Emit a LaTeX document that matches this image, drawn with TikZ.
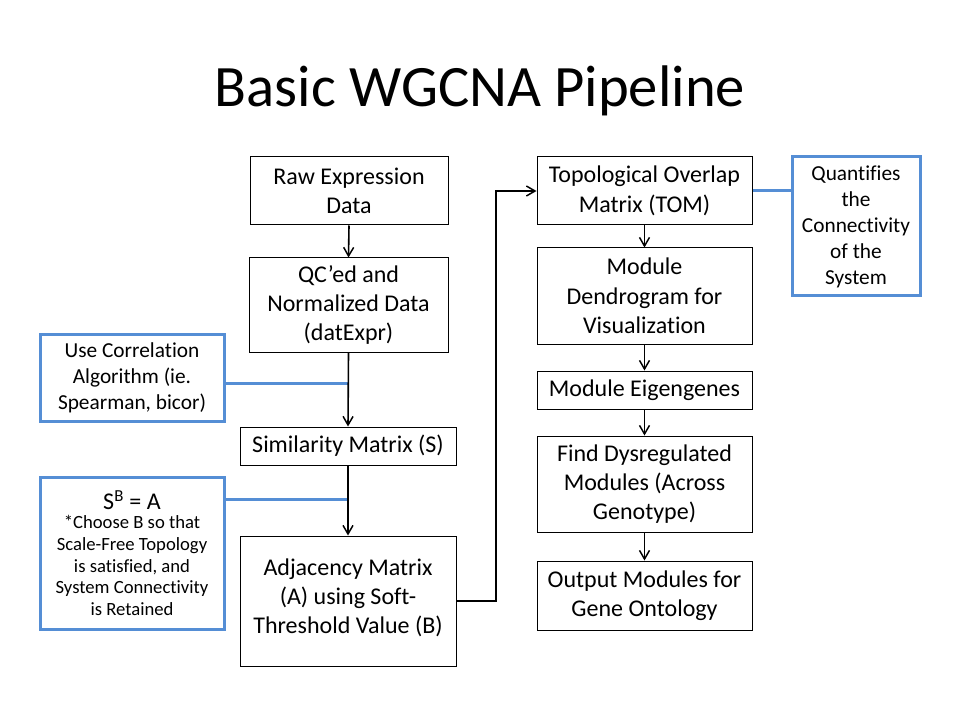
\documentclass[tikz,border=0pt]{standalone}
\usepackage{fontspec}
\setmainfont{Carlito}[Ligatures=NoCommon]
\usetikzlibrary{arrows.meta}
\definecolor{bluebox}{RGB}{85,142,213}
\begin{document}
\begin{tikzpicture}[x=0.75pt,y=-0.75pt,
  box/.style={draw=black,line width=0.75pt,align=center,inner sep=0pt,font=\fontsize{18}{22}\selectfont},
  note/.style={draw=bluebox,line width=2.25pt,align=center,inner sep=0pt},
  arr/.style={line width=1.2pt,-{Straight Barb[length=6.5pt,width=7.5pt,line width=1.1pt]}},
  bline/.style={draw=bluebox,line width=2.25pt}]
\useasboundingbox (0,0) rectangle (960,720);
\fill[white] (0,0) rectangle (960,720);
\node[anchor=base,font=\fontsize{44}{52}\selectfont] (title) at (480,107) {Basic WGCNA Pipeline};
% left column
\node[box,minimum width=198*0.75pt,minimum height=68*0.75pt] (raw) at (349,191) {Raw Expression\\Data};
\node[box,minimum width=199*0.75pt,minimum height=94*0.75pt] (qc) at (348.5,305) {QC’ed and\\Normalized Data\\(datExpr)};
\node[box,minimum width=216*0.75pt,minimum height=38*0.75pt] (sim) at (348,446) {Similarity Matrix (S)};
\node[box,minimum width=216*0.75pt,minimum height=130*0.75pt] (adj) at (348,601) {Adjacency Matrix\\(A) using Soft-\\Threshold Value (B)\\[-14.5pt]};
% notes
\node[note,minimum width=184*0.75pt,minimum height=87*0.75pt,font=\fontsize{16}{19.5}\selectfont] (corr) at (132,377.5) {Use Correlation\\Algorithm (ie.\\Spearman, bicor)};
\node[note,minimum width=184*0.75pt,minimum height=152*0.75pt,font=\fontsize{14}{16.3}\selectfont] (sb) at (132,553) {\fontsize{18}{22}\selectfont S\textsuperscript{B} = A\\[-2pt]
  \fontsize{14}{16.3}\selectfont *Choose B so that\\Scale-Free Topology\\is satisfied, and\\System Connectivity\\is Retained};
% right column
\node[box,minimum width=215*0.75pt,minimum height=68*0.75pt] (tom) at (644.5,191) {Topological Overlap\\Matrix (TOM)};
\node[box,minimum width=215*0.75pt,minimum height=96*0.75pt] (dend) at (644.5,296) {Module\\Dendrogram for\\Visualization};
\node[box,minimum width=215*0.75pt,minimum height=38*0.75pt] (eig) at (644.5,390) {Module Eigengenes};
\node[box,minimum width=215*0.75pt,minimum height=96*0.75pt] (dys) at (644.5,484) {Find Dysregulated\\Modules (Across\\Genotype)};
\node[box,minimum width=215*0.75pt,minimum height=69*0.75pt] (out) at (644.5,595.5) {Output Modules for\\Gene Ontology};
\node[note,minimum width=128*0.75pt,minimum height=139*0.75pt,font=\fontsize{16}{19.5}\selectfont] (quant) at (856,226.5) {Quantifies\\the\\Connectivity\\of the\\System};
% junctions
\coordinate (j1) at (348,383);
\coordinate (j2) at (348,499);
\coordinate (bend) at (496,601);
% blue connectors
\draw[bline] (corr.east |- j1) -- (j1);
\draw[bline] (sb.east |- j2) -- (j2);
\draw[bline] (tom.east) -- (quant.west |- tom.east);
% arrows
\draw[arr] (raw.south) -- (qc.north);
\draw[arr] (qc.south) -- (sim.north);
\draw[arr] (sim.south) -- (adj.north);
\draw[arr] (adj.east) -- (bend) |- (tom.west);
\draw[arr] (tom.south) -- (dend.north);
\draw[arr] (dend.south) -- (eig.north);
\draw[arr] (eig.south) -- (dys.north);
\draw[arr] (dys.south) -- (out.north);
\end{tikzpicture}
\end{document}
